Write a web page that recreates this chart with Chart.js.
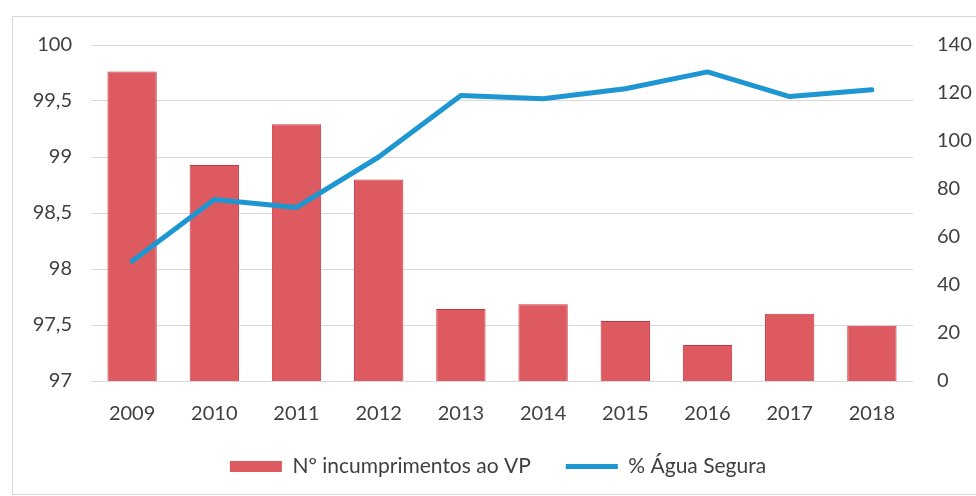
<!DOCTYPE html>
<html>
<head>
<meta charset="utf-8">
<script src="https://cdn.jsdelivr.net/npm/chart.js@4.4.0/dist/chart.umd.min.js"></script>
<style>
  body { margin: 0; background: #fff; }
  #wrap { position: relative; width: 976px; height: 496px; overflow: hidden; }
  #frame { position: absolute; left: 12px; top: 16px; width: 1000px; height: 477px; border: 1px solid #d6d6d6; }
  canvas { position: absolute; left: 0; top: 0; }
</style>
</head>
<body>
<div id="wrap">
  <div id="frame"></div>
  <canvas id="myChart" width="976" height="496"></canvas>
</div>

<script>
	// data
	var years = ["2009", "2010", "2011", "2012", "2013", "2014", "2015", "2016", "2017", "2018"];
	var incumprimentos = [129, 90, 107, 84, 30, 32, 25, 15, 28, 23];
	var aguaSegura = [98.07, 98.62, 98.55, 99.0, 99.55, 99.52, 99.61, 99.76, 99.54, 99.6];

	var leftTicks = { min: 97, max: 100, step: 0.5 };
	var rightTicks = { min: 0, max: 140, step: 20 };

	var textColor = '#404040';
	var gridColor = '#d9d9d9';
	Chart.defaults.font.family = 'Lato, "Open Sans", sans-serif';

	// keep the legend box short, the item spacing comes from labels.padding
	var legendHeight = {
	    id: 'legendHeight',
	    afterInit: function (chart) {
	        var lg = chart.legend;
	        if (!lg) return;
	        var fit = lg.fit;
	        lg.fit = function () {
	            fit.call(this);
	            this.height = 75;
	        };
	    }
	};

	var ctx = document.getElementById('myChart').getContext('2d');
	var chart = new Chart(ctx, {
	    type: 'bar',
	    data: {
	        labels: years,
	        datasets: [{
	            type: 'bar',
	            label: "Nº incumprimentos ao VP",
	            data: incumprimentos,
	            yAxisID: 'yRight',
	            backgroundColor: 'rgb(221, 90, 97)',
	            borderColor: 'rgb(200, 52, 62)',
	            borderWidth: 1,
	            barPercentage: 0.6,
	            categoryPercentage: 1,
	            order: 1
	        }, {
	            type: 'line',
	            label: "% Água Segura",
	            data: aguaSegura,
	            yAxisID: 'yLeft',
	            borderColor: 'rgb(29, 150, 210)',
	            backgroundColor: 'rgb(29, 150, 210)',
	            borderWidth: 5,
	            borderJoinStyle: 'round',
	            borderCapStyle: 'round',
	            pointRadius: 0,
	            tension: 0,
	            order: 0
	        }]
	    },
	    plugins: [legendHeight],
	    options: {
	        responsive: false,
	        animation: false,
	        layout: { padding: { left: 20, right: 0, top: 45, bottom: 0 } },
	        plugins: {
	            tooltip: { enabled: false },
	            legend: {
	                position: 'bottom',
	                labels: {
	                    color: textColor,
	                    font: { size: 21 },
	                    usePointStyle: true,
	                    pointStyleWidth: 52,
	                    boxHeight: 11,
	                    padding: 35,
	                    sort: function (a, b) { return a.datasetIndex - b.datasetIndex; },
	                    generateLabels: function (chart) {
	                        var items = Chart.defaults.plugins.legend.labels.generateLabels(chart);
	                        items.forEach(function (it) {
	                            if (it.datasetIndex === 0) {
	                                it.pointStyle = 'rect';
	                                it.lineWidth = 0;
	                            } else {
	                                it.pointStyle = 'line';
	                                it.lineWidth = 5;
	                            }
	                        });
	                        return items;
	                    }
	                }
	            }
	        },
	        scales: {
	            x: {
	                grid: { display: false },
	                border: { display: false },
	                ticks: { color: textColor, font: { size: 20 }, padding: 13 },
	                afterFit: function (scale) { scale.height = 40; }
	            },
	            yLeft: {
	                position: 'left',
	                min: leftTicks.min,
	                max: leftTicks.max,
	                grid: { color: gridColor, drawTicks: false },
	                border: { display: false },
	                ticks: {
	                    stepSize: leftTicks.step,
	                    color: textColor,
	                    font: { size: 20 },
	                    padding: 19,
	                    callback: function (v) { return String(v).replace('.', ','); }
	                },
	                afterFit: function (scale) { scale.width = 71; }
	            },
	            yRight: {
	                position: 'right',
	                min: rightTicks.min,
	                max: rightTicks.max,
	                grid: { display: false, drawTicks: false },
	                border: { display: false },
	                ticks: { stepSize: rightTicks.step, color: textColor, font: { size: 20 }, padding: 24 },
	                afterFit: function (scale) { scale.width = 63; }
	            }
	        }
	    }
	});
</script>
</body>
</html>
